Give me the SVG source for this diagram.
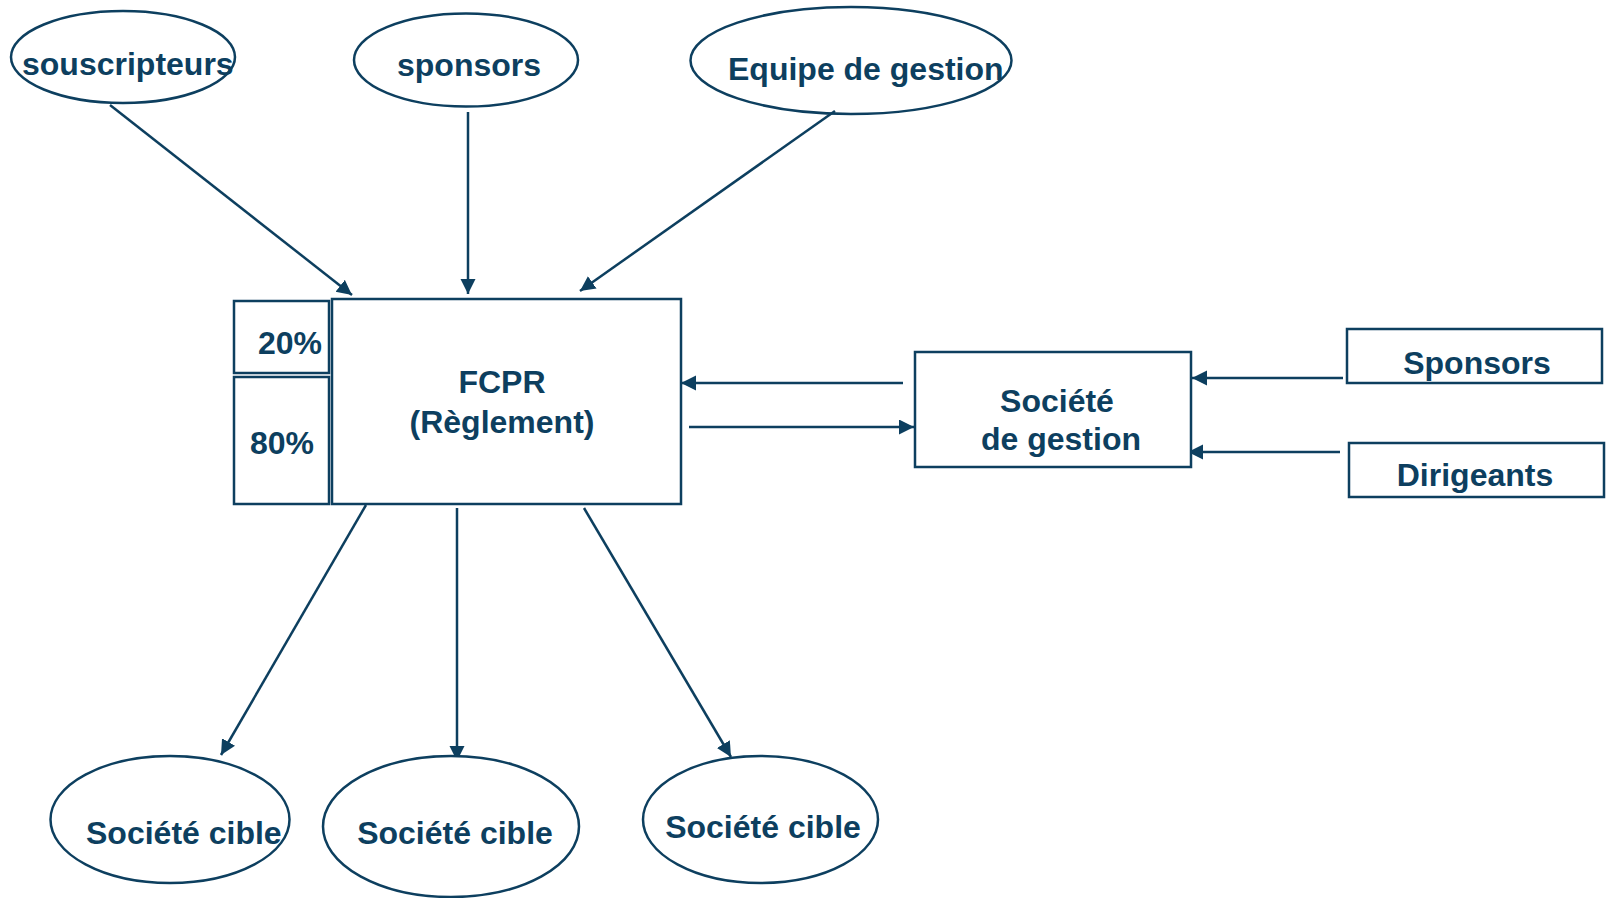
<svg xmlns="http://www.w3.org/2000/svg" width="1608" height="898" viewBox="0 0 1608 898">
<style>
.s{fill:#ffffff;stroke:#0d3f5f;stroke-width:2.5}
.t{font-family:"Liberation Sans",Arial,sans-serif;font-weight:bold;font-size:32px;fill:#0d3f5f}
.c{stroke:#0d3f5f;stroke-width:2.5;fill:none;marker-end:url(#ah)}
</style>
<defs>
<marker id="ah" markerUnits="userSpaceOnUse" markerWidth="16" markerHeight="16" refX="15" refY="7.5" orient="auto">
<path d="M0,0 L15,7.5 L0,15 z" fill="#0d3f5f"/>
</marker>
</defs>
<rect width="1608" height="898" fill="#ffffff"/>
<g id="connectors">
<line class="c" x1="110" y1="105" x2="352" y2="295"/>
<line class="c" x1="468" y1="112" x2="468" y2="294"/>
<line class="c" x1="835" y1="111" x2="580" y2="291"/>
<line class="c" x1="903" y1="383" x2="681" y2="383"/>
<line class="c" x1="689" y1="427" x2="914" y2="427"/>
<line class="c" x1="1343" y1="378" x2="1192" y2="378"/>
<line class="c" x1="1340" y1="452" x2="1188" y2="452"/>
<line class="c" x1="366" y1="505" x2="221" y2="755"/>
<line class="c" x1="457" y1="508" x2="457" y2="761"/>
<line class="c" x1="584" y1="508" x2="731" y2="757"/>
</g>
<g id="souscripteurs">
<ellipse class="s" cx="123" cy="57" rx="112" ry="46" fill="none" style="fill:none"/>
<text class="t" x="22" y="75">souscripteurs</text>
</g>
<g id="sponsors">
<ellipse class="s" cx="466" cy="60" rx="112" ry="46.5" style="fill:none"/>
<text class="t" x="469" y="76" text-anchor="middle">sponsors</text>
</g>
<g id="equipe">
<ellipse class="s" cx="851" cy="60.5" rx="160.5" ry="53.5" style="fill:none"/>
<text class="t" x="728" y="80">Equipe de gestion</text>
</g>
<g id="fcpr">
<rect class="s" x="332" y="299" width="349" height="205"/>
<text class="t" x="502" y="393" text-anchor="middle">FCPR</text>
<text class="t" x="502" y="433" text-anchor="middle">(Règlement)</text>
</g>
<g id="p20">
<rect class="s" x="234" y="301" width="95" height="72"/>
<text class="t" x="258" y="354">20%</text>
</g>
<g id="p80">
<rect class="s" x="234" y="377" width="95" height="127"/>
<text class="t" x="250" y="454">80%</text>
</g>
<g id="societe-gestion">
<rect class="s" x="915" y="352" width="276" height="115"/>
<text class="t" x="1057" y="412" text-anchor="middle">Société</text>
<text class="t" x="1061" y="450" text-anchor="middle">de gestion</text>
</g>
<g id="sponsors2">
<rect class="s" x="1347" y="329" width="255" height="54"/>
<text class="t" x="1477" y="374" text-anchor="middle">Sponsors</text>
</g>
<g id="dirigeants">
<rect class="s" x="1349" y="443" width="255" height="54"/>
<text class="t" x="1475" y="486" text-anchor="middle">Dirigeants</text>
</g>
<g id="cible1">
<ellipse class="s" cx="170" cy="819.5" rx="119.5" ry="63.5"/>
<text class="t" x="86" y="844">Société cible</text>
</g>
<g id="cible2">
<ellipse class="s" cx="451" cy="826.5" rx="128" ry="70.5"/>
<text class="t" x="455" y="844" text-anchor="middle">Société cible</text>
</g>
<g id="cible3">
<ellipse class="s" cx="760.5" cy="819.5" rx="117.5" ry="63.5"/>
<text class="t" x="763" y="838" text-anchor="middle">Société cible</text>
</g>
</svg>
